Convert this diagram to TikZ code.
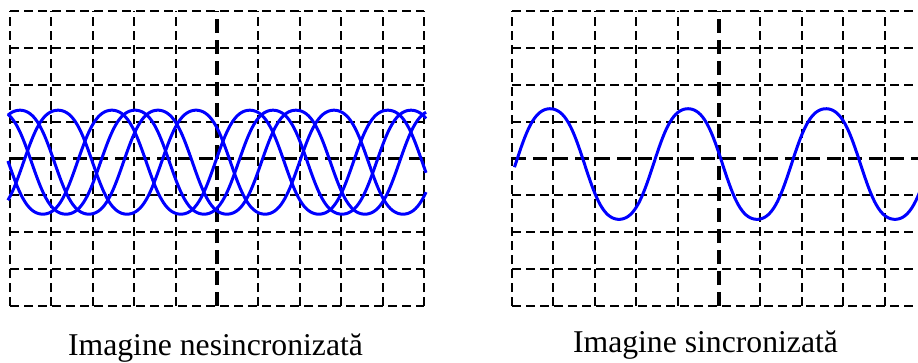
\documentclass[tikz,border=0pt]{standalone}
\usepackage{fontspec}
\setmainfont{Liberation Serif}
\usetikzlibrary{positioning}
\tikzstyle{gridline} = [black, line width=2pt, dash pattern=on 9pt off 5pt]
\tikzstyle{axisline} = [black, line width=3.4pt, dash pattern=on 14pt off 7pt]
\tikzstyle{trace}    = [blue, line width=3pt, smooth, samples=200]
\tikzstyle{caption}  = [font=\fontsize{31.7pt}{36pt}\selectfont, anchor=base, inner sep=0pt]

\begin{document}
\begin{tikzpicture}
  \useasboundingbox (0,0) rectangle (918pt,362pt);
  \clip (0,0) rectangle (918pt,362pt);

  % Unsynchronised screen
  \begin{scope}[shift={(10pt,56pt)}, x=41.4pt, y=36.875pt]
    \foreach \i in {0,1,2,3,4,6,7,8,9,10} {\draw[gridline] (\i,0) -- (\i,8);}
    \foreach \j in {0,1,2,3,5,6,7,8} {\draw[gridline] (0,\j) -- (10,\j);}
    \draw[axisline] (5,0) -- (5,8);
    \draw[axisline] (0,4) -- (10,4);
    \foreach \p in {0.24,1.16,2.46,3.02}
      \draw[trace] plot[domain=-0.05:10.05]
        (\x,{3.9+1.41*(cos(360*(\x-\p)/3.333)-0.05*cos(1080*(\x-\p)/3.333))/0.95});
  \end{scope}

  % Synchronised screen
  \begin{scope}[shift={(512pt,56pt)}, x=41.4pt, y=36.875pt]
    \foreach \i in {0,1,2,3,4,6,7,8,9,10} {\draw[gridline] (\i,0) -- (\i,8);}
    \foreach \j in {0,1,2,3,5,6,7,8} {\draw[gridline] (0,\j) -- (10,\j);}
    \draw[axisline] (5,0) -- (5,8);
    \draw[axisline] (0,4) -- (10,4);
    \draw[trace] plot[domain=0.06:10]
      (\x,{3.85+1.5*(sin(360*(\x-0.085)/3.333)+0.05*sin(1080*(\x-0.085)/3.333))/0.95});
  \end{scope}

  % Captions
  \node (capL) [caption] at (215.5pt,7pt) {Imagine nesincronizată};
  \node (capR) [caption] at (705.5pt,10pt) {Imagine sincronizată};

\end{tikzpicture}
\end{document}
